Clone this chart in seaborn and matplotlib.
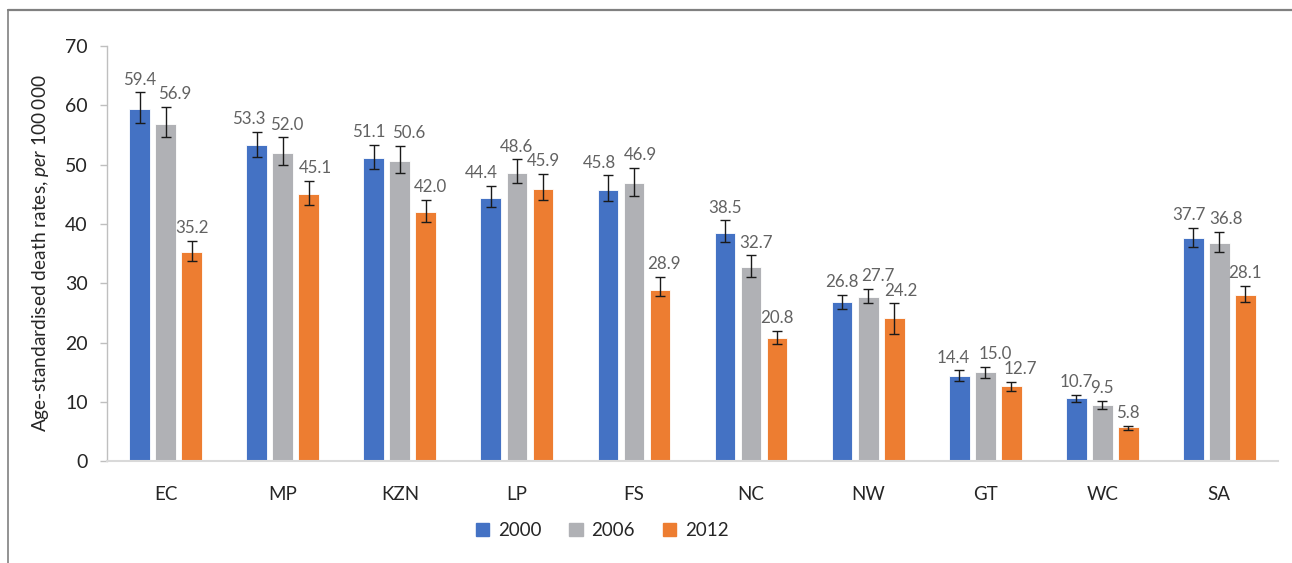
import matplotlib
matplotlib.use("Agg")
import matplotlib.pyplot as plt
import numpy as np
import pandas as pd
import seaborn as sns
from matplotlib.lines import Line2D

# ── Data ──────────────────────────────────────────────────────────────────────
regions = ["EC", "MP", "KZN", "LP", "FS", "NC", "NW", "GT", "WC", "SA"]
years = ["2000", "2006", "2012"]

rate_2000 = [59.4, 53.3, 51.1, 44.4, 45.8, 38.5, 26.8, 14.4, 10.7, 37.7]
rate_2006 = [56.9, 52.0, 50.6, 48.6, 46.9, 32.7, 27.7, 15.0, 9.5, 36.8]
rate_2012 = [35.2, 45.1, 42.0, 45.9, 28.9, 20.8, 24.2, 12.7, 5.8, 28.1]

low_2000 = [57.1, 51.3, 49.2, 42.8, 43.9, 36.9, 25.7, 13.5, 9.9, 36.2]
high_2000 = [62.2, 55.5, 53.4, 46.4, 48.2, 40.6, 28.1, 15.3, 11.2, 39.4]
low_2006 = [54.6, 50.0, 48.6, 46.9, 44.7, 31.0, 26.6, 14.1, 8.8, 35.2]
high_2006 = [59.8, 54.6, 53.1, 50.9, 49.5, 34.7, 29.0, 15.9, 10.1, 38.6]
low_2012 = [33.8, 43.2, 40.3, 44.1, 27.9, 19.7, 21.5, 11.8, 5.3, 26.9]
high_2012 = [37.1, 47.3, 44.1, 48.4, 31.0, 21.9, 26.6, 13.4, 6.0, 29.6]

palette = ["#4472C4", "#B0B1B5", "#ED7D31"]

# sideways nudges (points) so neighbouring value labels do not collide
label_nudge = {
    ("EC", "2006"): 6.5,
    ("MP", "2000"): -5.5, ("MP", "2006"): 3, ("MP", "2012"): 5,
    ("KZN", "2000"): -3.5, ("KZN", "2006"): 6, ("KZN", "2012"): 3.5,
    ("LP", "2000"): -7,
    ("FS", "2000"): -6, ("FS", "2006"): 4.5, ("FS", "2012"): 3,
    ("NC", "2006"): 3.5,
    ("NW", "2006"): 7, ("NW", "2012"): 5,
    ("GT", "2000"): -4.5, ("GT", "2006"): 7, ("GT", "2012"): 6.5,
    ("SA", "2000"): -3, ("SA", "2006"): 5,
}

rates = [rate_2000, rate_2006, rate_2012]
lows = [low_2000, low_2006, low_2012]
highs = [high_2000, high_2006, high_2012]

df = pd.DataFrame({
    "region": regions * 3,
    "year": np.repeat(years, len(regions)),
    "rate": rate_2000 + rate_2006 + rate_2012,
})

# ── Plot ──────────────────────────────────────────────────────────────────────
sns.set_theme(style="white")
plt.rcParams["font.family"] = ["Lato", "DejaVu Sans"]
plt.rcParams.update({
    "mathtext.fontset": "custom",
    "mathtext.rm": "Lato",
    "mathtext.it": "Lato:italic",
})

fig = plt.figure(figsize=(12.92, 5.63), dpi=100)
ax = fig.add_axes([0.083, 0.181, 0.906, 0.737])

sns.barplot(
    data=df, x="region", y="rate", hue="year", order=regions,
    hue_order=years, palette=palette, width=0.667, gap=0.2,
    edgecolor="white", linewidth=0.6, saturation=1, errorbar=None, ax=ax,
)

for cont, year, vals, lo, hi in zip(ax.containers, years, rates, lows, highs):
    xs = [p.get_x() + p.get_width() / 2 for p in cont.patches]
    vals = np.array(vals)
    lo = np.array(lo)
    hi = np.array(hi)
    ax.errorbar(xs, vals, yerr=[vals - lo, hi - vals], fmt="none",
                ecolor="#1a1a1a", elinewidth=1.0, capsize=3.9, capthick=1.0)
    for reg, x, v, h in zip(regions, xs, vals, hi):
        dx = label_nudge.get((reg, year), 0)
        ax.annotate(f"{v:.1f}", (x, h), xytext=(dx, 3.5),
                    textcoords="offset points", ha="center", va="bottom",
                    fontsize=12.2, color="#626262")

ax.set_ylim(0, 70)
ax.set_yticks(range(0, 71, 10))
ax.set_xlim(-0.5, len(regions) - 0.5)
ax.set_xlabel("")
ax.set_ylabel(r"Age-standardised death rates, $\mathit{per\ 100\:000}$",
              fontsize=13.8, color="#262626", labelpad=10)

ax.tick_params(axis="y", labelsize=14, colors="#262626", left=True,
               length=5, width=1, color="#BFBFBF", pad=9)
ax.tick_params(axis="x", labelsize=13.5, colors="#262626", bottom=False,
               pad=12)

for side in ["top", "right"]:
    ax.spines[side].set_visible(False)
ax.spines["left"].set_color("#BFBFBF")
ax.spines["bottom"].set_color("#D9D9D9")
ax.spines["left"].set_linewidth(1)
ax.spines["bottom"].set_linewidth(1.5)

ax.legend_.remove()
handles = [plt.Rectangle((0, 0), 1, 1, color=c) for c in palette]
fig.legend(handles, years, loc="center", bbox_to_anchor=(0.466, 0.058),
           ncol=3, frameon=False, fontsize=13.5, handlelength=0.72,
           handleheight=0.72, handletextpad=0.45, columnspacing=1.5,
           labelcolor="#262626")

# page frame (top and left edges)
fig.add_artist(Line2D([0.0062, 1.0], [0.983, 0.983], color="#808080",
                      lw=1.6, transform=fig.transFigure))
fig.add_artist(Line2D([0.0062, 0.0062], [0.0, 0.983], color="#808080",
                      lw=1.2, transform=fig.transFigure))

fig.savefig("out.png", dpi=100, facecolor="white")
plt.close(fig)
